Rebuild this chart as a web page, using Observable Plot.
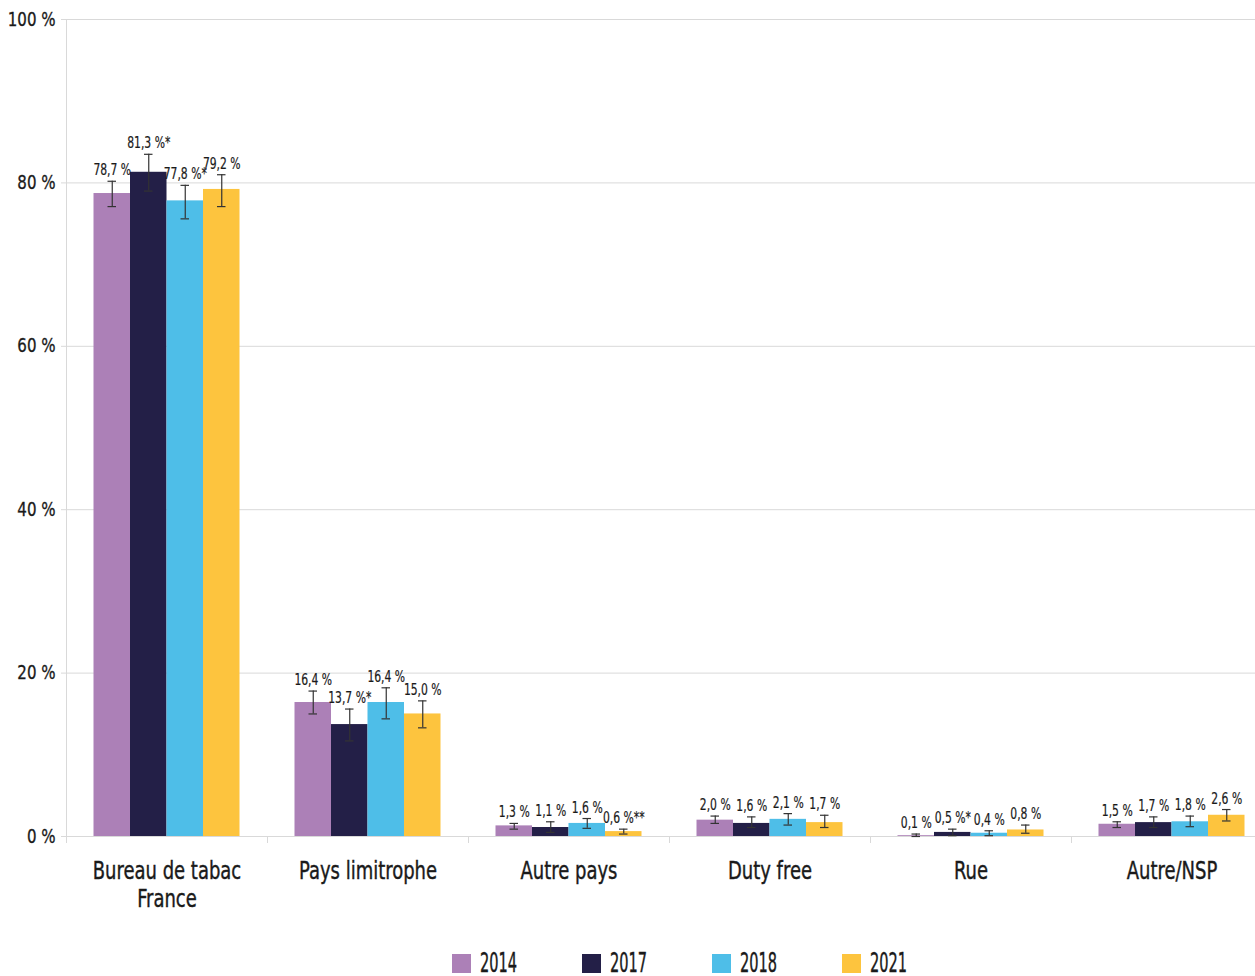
<!DOCTYPE html>
<html>
<head>
<meta charset="utf-8">
<script src="https://cdn.jsdelivr.net/npm/d3@7"></script>
<script src="https://cdn.jsdelivr.net/npm/@observablehq/plot@0.6"></script>
<style>
  html, body { margin: 0; padding: 0; background: #fff; overflow: hidden; }
  #wrap { position: relative; width: 1255px; height: 976px; font-family: "DejaVu Sans Condensed", "DejaVu Sans", sans-serif; color: #1a1a1a; }
  #legend { position: absolute; top: 950px; left: 452px; display: flex; font-size: 27px; line-height: 26px; }
  .item { width: 130px; display: flex; align-items: center; }
  .sw { width: 19px; height: 19px; margin-right: 9px; flex: none; }
  .lt { display: inline-block; transform: scaleX(0.6); transform-origin: left center; -webkit-text-stroke: 0.4px #1a1a1a; }
</style>
</head>
<body>
<div id="wrap"><div id="chart"></div><div id="legend"></div></div>
<script>
const categories = ["Bureau de tabac\nFrance", "Pays limitrophe", "Autre pays", "Duty free", "Rue", "Autre/NSP"];
const years = ["2014", "2017", "2018", "2021"];
const colors = ["#ac80b7", "#231f47", "#4ebee8", "#fdc43e"];

const values2014 = [78.7, 16.4, 1.3, 2.0, 0.1, 1.5];
const values2017 = [81.3, 13.7, 1.1, 1.6, 0.5, 1.7];
const values2018 = [77.8, 16.4, 1.6, 2.1, 0.4, 1.8];
const values2021 = [79.2, 15.0, 0.6, 1.7, 0.8, 2.6];

const low2014 = [77.1, 15.0, 0.9, 1.6, 0.0, 1.1];
const high2014 = [80.2, 17.8, 1.6, 2.5, 0.3, 1.8];
const low2017 = [79.0, 11.7, 0.5, 1.1, 0.1, 1.1];
const high2017 = [83.5, 15.6, 1.8, 2.4, 0.9, 2.4];
const low2018 = [75.6, 14.4, 1.0, 1.4, 0.1, 1.2];
const high2018 = [79.7, 18.2, 2.2, 2.8, 0.7, 2.5];
const low2021 = [77.1, 13.3, 0.3, 1.1, 0.4, 1.9];
const high2021 = [81.0, 16.6, 0.9, 2.6, 1.4, 3.3];

const notes2014 = ["", "", "", "", "", ""];
const notes2017 = ["*", "*", "", "", "*", ""];
const notes2018 = ["*", "", "", "", "", ""];
const notes2021 = ["", "", "**", "", "", ""];

const yTicks = [0, 20, 40, 60, 80, 100];

const series = [
  [values2014, low2014, high2014, notes2014],
  [values2017, low2017, high2017, notes2017],
  [values2018, low2018, high2018, notes2018],
  [values2021, low2021, high2021, notes2021]
];
const fmt = v => v.toFixed(1).replace(".", ",") + " %";
const data = [];
categories.forEach((cat, i) => {
  years.forEach((year, j) => {
    const [v, lo, hi, n] = series[j];
    data.push({cat, year, value: v[i], lo: lo[i], hi: hi[i], label: fmt(v[i]) + n[i]});
  });
});

const grid = "#d9d9d9";
const ink = "#1a1a1a";
const chart = Plot.plot({
  width: 1255,
  height: 925,
  marginLeft: 66,
  marginRight: 0,
  marginTop: 19,
  marginBottom: 89,
  style: {fontFamily: '"DejaVu Sans Condensed", "DejaVu Sans", sans-serif', color: ink, background: "#fff"},
  fx: {domain: categories, range: [66, 1272], padding: 0, round: false, label: null},
  x: {domain: years, paddingInner: 0, paddingOuter: 0.7534, round: false, axis: null},
  y: {domain: [0, 100], axis: null},
  color: {domain: years, range: colors},
  marks: [
    Plot.ruleY(yTicks, {stroke: grid}),
    Plot.axisY(yTicks, {tickSize: 5, tickPadding: 6, stroke: grid, fill: ink, fontSize: 19, tickFormat: d => d + " %", label: null}),
    Plot.frame({anchor: "left", facetAnchor: "left", stroke: grid, insetBottom: -6}),
    Plot.frame({anchor: "right", stroke: grid, insetTop: 817, insetBottom: -6}),
    Plot.barY(data, {fx: "cat", x: "year", y: "value", fill: "year"}),
    Plot.ruleX(data, {fx: "cat", x: "year", y1: "lo", y2: "hi", stroke: "#333", strokeWidth: 1.2}),
    Plot.tickY(data, {fx: "cat", x: "year", y: "lo", stroke: "#333", strokeWidth: 1.2, insetLeft: 14, insetRight: 14}),
    Plot.tickY(data, {fx: "cat", x: "year", y: "hi", stroke: "#333", strokeWidth: 1.2, insetLeft: 14, insetRight: 14}),
    Plot.text(data, {fx: "cat", x: "year", y: "hi", text: "label", lineAnchor: "bottom", dy: -6, fontSize: 15, fill: ink}),
    Plot.axisFx({anchor: "bottom", tickSize: 0, tickPadding: 23, fontSize: 25, lineHeight: 1.1, fill: ink, label: null})
  ]
});
document.getElementById("chart").appendChild(chart);

// narrow the glyphs to mimic the condensed typeface of the original
function condense(selector, f, sw) {
  chart.querySelectorAll(selector).forEach(el => {
    let t = el.getAttribute("transform");
    if (!t) {
      const x = el.getAttribute("x") || 0, y = el.getAttribute("y") || 0;
      el.removeAttribute("x"); el.removeAttribute("y");
      t = `translate(${x},${y})`;
    }
    el.setAttribute("transform", t + ` scale(${f},1)`);
    if (sw) { el.setAttribute("stroke", ink); el.setAttribute("stroke-width", sw); }
  });
}
condense('g[aria-label="y-axis tick label"] text', 0.88, 0.3);
condense('g[aria-label="text"] text', 0.8, 0.2);
condense('g[aria-label="fx-axis tick label"] text', 0.8, 0.4);

const legend = document.getElementById("legend");
years.forEach((y, i) => {
  const item = document.createElement("div");
  item.className = "item";
  const sw = document.createElement("span");
  sw.className = "sw";
  sw.style.background = colors[i];
  const t = document.createElement("span");
  t.className = "lt";
  t.textContent = y;
  item.appendChild(sw);
  item.appendChild(t);
  legend.appendChild(item);
});
</script>
</body>
</html>
